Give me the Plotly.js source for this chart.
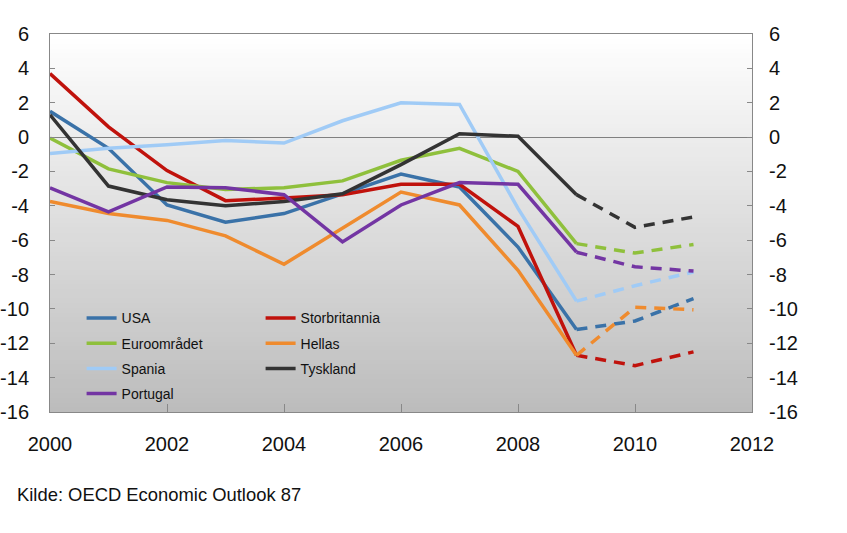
<!DOCTYPE html>
<html>
<head>
<meta charset="utf-8">
<script src="https://cdn.plot.ly/plotly-3.0.1.min.js"></script>
<style>html,body{margin:0;padding:0;background:#fff;}#chart{width:847px;height:533px;}</style>
</head>
<body>
<div id="chart"></div>
<script>
const years = [2000, 2001, 2002, 2003, 2004, 2005, 2006, 2007, 2008, 2009, 2010, 2011];
const usa           = [1.5, -0.65, -3.95, -4.95, -4.45, -3.3, -2.15, -2.9, -6.4, -11.2, -10.7, -9.4];
const storbritannia = [3.7, 0.6, -1.95, -3.7, -3.55, -3.35, -2.75, -2.75, -5.2, -12.7, -13.3, -12.5];
const euroomradet   = [-0.05, -1.85, -2.65, -3.05, -2.95, -2.55, -1.35, -0.65, -2.0, -6.2, -6.75, -6.25];
const hellas        = [-3.75, -4.45, -4.85, -5.75, -7.4, -5.3, -3.2, -3.95, -7.75, -12.7, -9.9, -10.05];
const spania        = [-0.95, -0.65, -0.45, -0.2, -0.35, 0.95, 2.0, 1.9, -4.15, -9.55, -8.65, -7.85];
const tyskland      = [1.3, -2.85, -3.65, -4.0, -3.75, -3.3, -1.6, 0.2, 0.05, -3.35, -5.25, -4.65];
const portugal      = [-2.95, -4.35, -2.9, -2.95, -3.35, -6.1, -3.95, -2.65, -2.75, -6.7, -7.55, -7.8];
const forecastStart = 2009;
const yTickVals = [-16, -14, -12, -10, -8, -6, -4, -2, 0, 2, 4, 6];
const yTickText = ["-16", "-14", "-12", "-10", "-8", "-6", "-4", "-2", "0", "2", "4", "6"];
const sourceText = "Kilde: OECD Economic Outlook 87";

const series = [
  {name: "USA", y: usa, color: "#3a72a8", legend: "legend"},
  {name: "Storbritannia", y: storbritannia, color: "#c0120c", legend: "legend2"},
  {name: "Euroområdet", y: euroomradet, color: "#8fc03c", legend: "legend"},
  {name: "Hellas", y: hellas, color: "#ef8b2e", legend: "legend2"},
  {name: "Spania", y: spania, color: "#a0cbf6", legend: "legend"},
  {name: "Tyskland", y: tyskland, color: "#333333", legend: "legend2"},
  {name: "Portugal", y: portugal, color: "#7335a3", legend: "legend"}
];

const traces = [];
const fIdx = years.indexOf(forecastStart);
series.forEach((s, i) => {
  traces.push({
    type: "scatter", mode: "lines", name: s.name,
    x: years.slice(0, fIdx + 1), y: s.y.slice(0, fIdx + 1),
    line: {color: s.color, width: 3.5},
    legend: s.legend, legendgroup: "g" + i, hoverinfo: "x+y+name"
  });
  traces.push({
    type: "scatter", mode: "lines", name: s.name, showlegend: false,
    x: years.slice(fIdx), y: s.y.slice(fIdx),
    line: {color: s.color, width: 3.5, dash: "11px,8px"},
    legend: s.legend, legendgroup: "g" + i, hoverinfo: "x+y+name"
  });
});

// gradient background as stacked strips
const shapes = [];
const N = 80;
for (let k = 0; k < N; k++) {
  const t = (k + 0.5) / N;
  const v = Math.round(255 - (255 - 188) * t);
  shapes.push({
    type: "rect", xref: "paper", yref: "paper", layer: "below",
    x0: 0, x1: 1, y0: 1 - (k + 1) / N - 0.002, y1: 1 - k / N,
    fillcolor: `rgb(${v},${v},${v})`, line: {width: 0}
  });
}

const font = {family: "Liberation Sans, Arial, sans-serif", color: "#111"};
const yaxisCommon = {
  range: [-16, 6], tickmode: "array", tickvals: yTickVals, ticktext: yTickText,
  showgrid: false,
  ticks: "inside", ticklen: 5, tickcolor: "#888", tickwidth: 1,
  tickfont: {size: 20, family: font.family, color: "#111"},
  zeroline: false, fixedrange: true, ticklabelstandoff: 16
};

const legendCommon = {
  y: 0.29, xanchor: "left", yanchor: "top",
  bgcolor: "rgba(0,0,0,0)", font: {size: 14, family: font.family, color: "#111"},
  tracegroupgap: 4, traceorder: "grouped", itemclick: false
};

const layout = {
  width: 847, height: 533,
  margin: {l: 50, r: 95, t: 34, b: 121},
  paper_bgcolor: "#ffffff", plot_bgcolor: "rgba(0,0,0,0)",
  font: font,
  showlegend: true,
  xaxis: {
    range: [2000, 2012], dtick: 2, tick0: 2000, showgrid: false,
    ticks: "inside", ticklen: 8, tickcolor: "#888",
    showline: true, mirror: true, linecolor: "#888", linewidth: 1,
    tickfont: {size: 20, family: font.family, color: "#111"},
    zeroline: false, ticklabelstandoff: 14
  },
  yaxis: Object.assign({}, yaxisCommon, {
    showline: true, mirror: true, linecolor: "#888", linewidth: 1,
    zeroline: true, zerolinecolor: "#808080", zerolinewidth: 1
  }),
  yaxis2: Object.assign({}, yaxisCommon, {
    overlaying: "y", side: "right", showline: false
  }),
  legend: Object.assign({x: 0.045}, legendCommon),
  legend2: Object.assign({x: 0.3}, legendCommon),
  shapes: shapes,
  annotations: [{
    text: sourceText, xref: "paper", yref: "paper",
    x: -0.05, y: -0.217, xanchor: "left", yanchor: "middle",
    showarrow: false, font: {size: 18.4, family: font.family, color: "#111"}
  }]
};

// dummy trace to activate right axis
traces.push({type: "scatter", x: [years[0]], y: [null], yaxis: "y2", showlegend: false, hoverinfo: "skip"});

Plotly.newPlot("chart", traces, layout, {displayModeBar: false, staticPlot: true});
</script>
</body>
</html>
